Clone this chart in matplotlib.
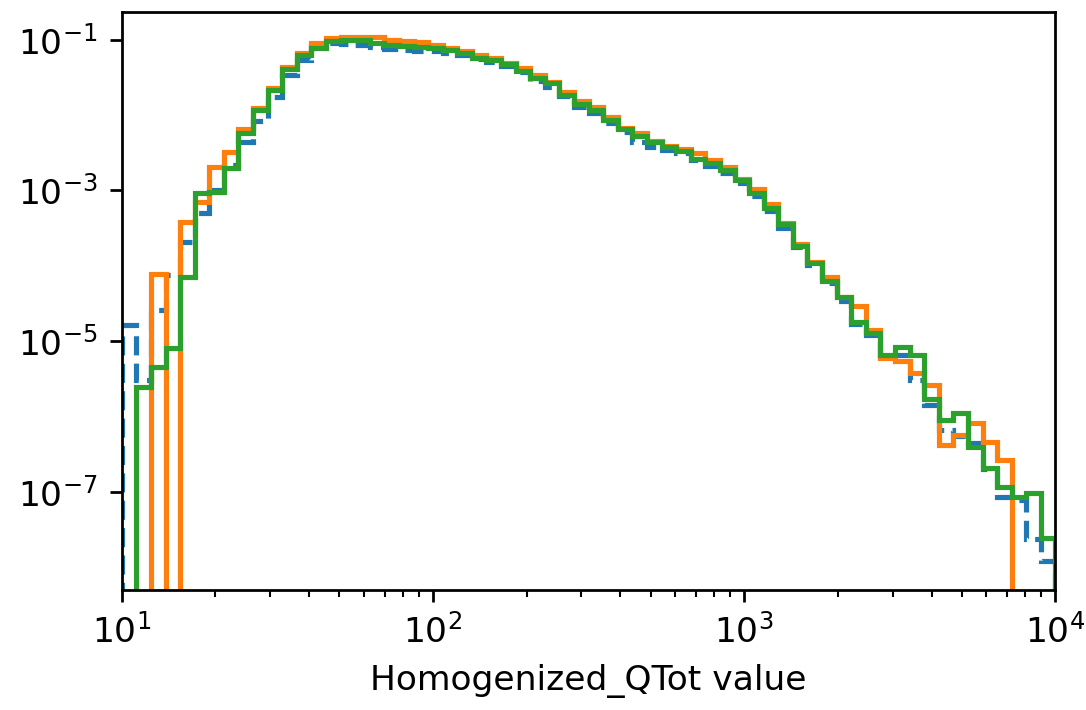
import numpy as np
import matplotlib
matplotlib.use("Agg")
import matplotlib.pyplot as plt
from matplotlib.ticker import FixedLocator, NullLocator

# Log-spaced binning of Homogenized_QTot (64 bins over three decades)
bin_edges = np.logspace(1, 4, 65)

# Normalised bin contents per sample
sample_a = [
    1.64e-5, 3.1e-6, 2.6e-5, 7.6e-5, 2.1e-4, 5.0e-4, 1.0e-3, 2.2e-3,
    4.4e-3, 8.4e-3, 1.75e-2, 3.4e-2, 5.3e-2, 8.0e-2, 8.9e-2, 8.7e-2,
    8.5e-2, 7.9e-2, 7.5e-2, 7.3e-2, 7.1e-2, 7.0e-2, 6.7e-2, 6.2e-2,
    5.6e-2, 5.1e-2, 4.5e-2, 3.7e-2, 2.85e-2, 2.35e-2, 1.78e-2, 1.27e-2,
    1.06e-2, 7.8e-3, 6.0e-3, 4.4e-3, 3.8e-3, 3.4e-3, 3.1e-3, 2.5e-3,
    2.1e-3, 1.7e-3, 1.25e-3, 8.4e-4, 5.4e-4, 3.2e-4, 1.75e-4, 1.02e-4,
    5.9e-5, 3.4e-5, 1.7e-5, 1.2e-5, 6.2e-6, 6.5e-6, 3.1e-6, 1.43e-6,
    6.7e-7, 5.5e-7, 4.5e-7, 2.0e-7, 8.5e-8, 7.8e-8, 2.4e-8, 1.2e-8,
]
sample_b = [
    0.0, 0.0, 7.9e-5, 0.0, 3.86e-4, 7.1e-4, 2.07e-3, 3.27e-3,
    6.5e-3, 1.23e-2, 2.26e-2, 4.3e-2, 6.7e-2, 8.95e-2, 1.04e-1, 1.10e-1,
    1.10e-1, 1.08e-1, 9.9e-2, 9.5e-2, 9.2e-2, 8.6e-2, 7.8e-2, 7.1e-2,
    6.3e-2, 5.7e-2, 4.9e-2, 4.15e-2, 3.36e-2, 2.75e-2, 2.04e-2, 1.55e-2,
    1.27e-2, 9.3e-3, 6.8e-3, 5.8e-3, 4.5e-3, 3.9e-3, 3.6e-3, 3.1e-3,
    2.54e-3, 2.03e-3, 1.42e-3, 1.05e-3, 6.6e-4, 3.7e-4, 1.93e-4, 1.13e-4,
    7.0e-5, 3.9e-5, 2.9e-5, 1.42e-5, 6.0e-6, 5.4e-6, 3.8e-6, 2.6e-6,
    4.2e-7, 5.7e-7, 8.3e-7, 4.66e-7, 2.67e-7, 0.0, 0.0, 0.0,
]
sample_c = [
    0.0, 2.5e-6, 4.5e-6, 8.2e-6, 7.2e-5, 9.2e-4, 9.4e-4, 1.97e-3,
    5.7e-3, 1.17e-2, 2.15e-2, 4.05e-2, 6.2e-2, 7.7e-2, 9.7e-2, 9.9e-2,
    9.8e-2, 9.0e-2, 8.5e-2, 8.2e-2, 8.0e-2, 7.8e-2, 7.3e-2, 6.6e-2,
    5.8e-2, 5.4e-2, 4.76e-2, 3.88e-2, 3.07e-2, 2.64e-2, 1.85e-2, 1.41e-2,
    1.15e-2, 8.6e-3, 6.6e-3, 5.2e-3, 4.4e-3, 3.8e-3, 3.3e-3, 2.6e-3,
    2.3e-3, 1.85e-3, 1.39e-3, 9.3e-4, 5.8e-4, 3.6e-4, 1.84e-4, 1.08e-4,
    6.2e-5, 3.8e-5, 1.82e-5, 1.28e-5, 6.6e-6, 8.3e-6, 6.6e-6, 1.72e-6,
    9.0e-7, 1.13e-6, 4.0e-7, 2.07e-7, 1.16e-7, 8.7e-8, 9.6e-8, 2.44e-8,
]

y_ticks = [1e-1, 1e-3, 1e-5, 1e-7]
x_label = "Homogenized_QTot value"

dpi = 248
fig = plt.figure(figsize=(1086 / dpi, 710 / dpi), dpi=dpi)
ax = fig.add_axes([0.1121, 0.169, 0.8598, 0.8145])

centers = np.sqrt(bin_edges[:-1] * bin_edges[1:])
ax.hist(centers, bins=bin_edges, weights=sample_a, histtype="step",
        color="tab:blue", linestyle="--", linewidth=1.5, log=True)
ax.hist(centers, bins=bin_edges, weights=sample_b, histtype="step",
        color="tab:orange", linewidth=1.5, log=True)
ax.hist(centers, bins=bin_edges, weights=sample_c, histtype="step",
        color="tab:green", linewidth=1.5, log=True)

ax.set_xscale("log")
ax.set_xlim(1e1, 1e4)
ax.set_ylim(5.0e-9, 0.235)
ax.yaxis.set_major_locator(FixedLocator(y_ticks))
ax.yaxis.set_minor_locator(NullLocator())
ax.set_xlabel(x_label)

fig.savefig("out.png", dpi=dpi)
